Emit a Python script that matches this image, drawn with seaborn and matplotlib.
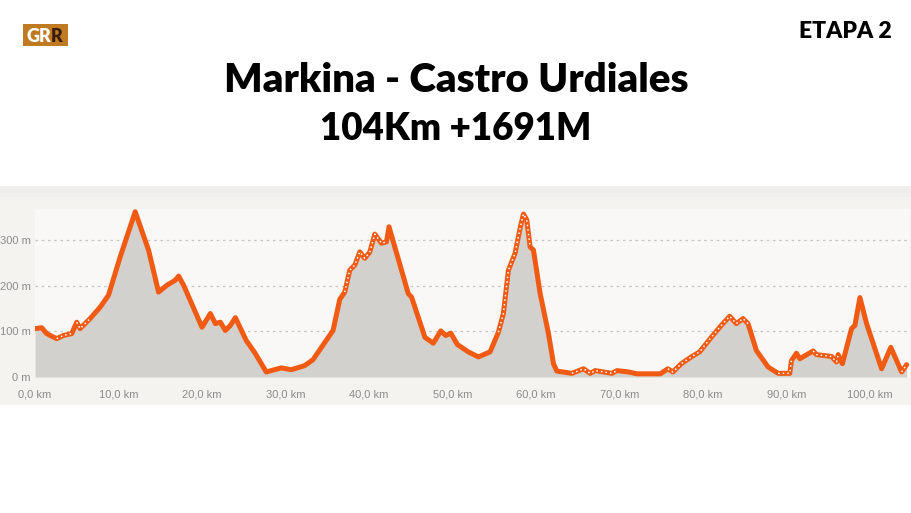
import numpy as np
import pandas as pd
import matplotlib.pyplot as plt
import seaborn as sns
from matplotlib.patches import Rectangle
from matplotlib.ticker import FuncFormatter

# ── Data ──────────────────────────────────────────────────────────────────────

dist_km = [0.0, 0.8, 1.4, 2.6, 3.4, 4.4, 5.0, 5.4, 6.6, 7.8, 8.8, 10.2, 12.0,
           13.6, 14.8, 15.8, 16.8, 17.2, 17.8, 20.0, 21.0, 21.6, 22.2, 22.8,
           23.4, 24.0, 25.3, 26.3, 27.7, 28.7, 29.5, 30.7, 32.3, 33.3, 34.5,
           35.7, 36.5, 37.1, 37.7, 38.3, 38.9, 39.5, 40.1, 40.7, 41.5, 42.1,
           42.4, 44.7, 45.1, 46.7, 47.7, 48.6, 49.2, 49.8, 50.6, 51.9, 53.1,
           54.5, 55.5, 56.1, 56.7, 57.5, 58.1, 58.5, 58.9, 59.3, 59.7, 60.5,
           61.5, 62.1, 62.5, 64.3, 65.7, 66.5, 67.1, 69.1, 69.7, 71.1, 72.1,
           74.9, 75.8, 76.4, 77.4, 78.6, 79.6, 81.0, 82.2, 83.2, 84.0, 84.8,
           85.4, 86.4, 87.8, 89.0, 90.4, 90.6, 91.2, 91.6, 93.2, 93.6, 95.4,
           96.0, 96.2, 96.7, 97.8, 98.2, 98.8, 99.6, 101.4, 102.5, 103.8, 104.4]
elev_m = [106, 108, 95, 84, 91, 95, 120, 106, 128, 153, 179, 263, 362,
          278, 186, 201, 212, 221, 201, 109, 139, 117, 120, 102,
          113, 130, 80, 54, 11, 16, 20, 16, 25, 38, 70,
          102, 170, 186, 234, 245, 274, 260, 274, 313, 293, 296,
          329, 183, 175, 87, 74, 101, 91, 96, 71, 55, 44,
          55, 98, 139, 234, 271, 326, 357, 344, 285, 278, 183,
          95, 29, 13, 8, 18, 8, 14, 8, 14, 11, 7,
          7, 18, 11, 29, 44, 55, 87, 113, 133, 117, 128,
          117, 58, 22, 8, 8, 36, 52, 40, 57, 49, 45,
          33, 49, 29, 106, 113, 174, 117, 18, 65, 11, 27]

# stretches drawn with the white dotted overlay
dotted_ranges = [(2.0, 4.4), (5.0, 6.6), (8.4, 9.0), (37.1, 42.2), (55.5, 59.3),
                 (64.0, 70.0), (75.0, 85.6), (89.0, 90.6), (92.8, 96.4), (103.6, 104.4)]

x_ticks = [0, 10, 20, 30, 40, 50, 60, 70, 80, 90, 100]
y_ticks = [0, 100, 200, 300]

title_1 = "Markina - Castro Urdiales"
title_2 = "104Km +1691M"
stage = "ETAPA 2"

df = pd.DataFrame({'dist': dist_km, 'elev': elev_m})

LINE = '#f05a12'
FILL = '#d3d1cd'
TITLE_FONT = ['Lato', 'DejaVu Sans']

sns.set_style('white')
plt.rcParams['font.family'] = ['Liberation Sans', 'DejaVu Sans']

fig = plt.figure(figsize=(9.12, 5.13), dpi=100)
fig.patch.set_facecolor('white')

# screenshot panel behind the chart (own background axes)
bg = fig.add_axes([0, 0, 1, 1], zorder=-1)
bg.set_xlim(0, 912)
bg.set_ylim(513, 0)
bg.axis('off')
bg.add_patch(Rectangle((0, 197), 912, 208, color='#f4f3f0', lw=0))
bg.add_patch(Rectangle((0, 186), 912, 11, color='#efeeec', lw=0))
# GRR badge
bg.add_patch(Rectangle((23, 24), 45, 22, color='#bf7a22', lw=0))
bg.text(51, 41.5, "GR", ha='right', va='baseline', fontsize=13,
        fontweight='heavy', color='white', family=TITLE_FONT)
bg.text(51, 41.5, "R", ha='left', va='baseline', fontsize=13,
        fontweight='heavy', color='#3b1c0c', family=TITLE_FONT)

ax = fig.add_axes([35 / 912, 1 - 377 / 513, 875 / 912, (377 - 209) / 513], zorder=1)
ax.set_facecolor('#f9f8f6')

ax.fill_between(df['dist'], df['elev'], 0, color=FILL, lw=0, zorder=2)
sns.lineplot(data=df, x='dist', y='elev', ax=ax, color=LINE, lw=3.6,
             zorder=3, sort=False)
for lo, hi in dotted_ranges:
    seg = df[(df['dist'] >= lo) & (df['dist'] <= hi)]
    ax.plot(seg['dist'], seg['elev'], color='white', lw=1.1,
            ls=(0, (1, 2)), zorder=4)

ax.set_xlim(0, 104.8)
ax.set_ylim(0, 368)
ax.set_xticks(x_ticks)
ax.set_yticks(y_ticks)
ax.xaxis.set_major_formatter(FuncFormatter(lambda v, p: f"{v:.1f}".replace('.', ',') + " km"))
ax.yaxis.set_major_formatter(FuncFormatter(lambda v, p: f"{int(v)} m"))
ax.tick_params(axis='x', length=5, color='#d0d0d0', labelsize=8, labelcolor='#8c8c8c', pad=4)
ax.tick_params(axis='y', length=0, labelsize=8, labelcolor='#8c8c8c', pad=3)
for y in y_ticks[1:]:
    ax.axhline(y, color='#c4c4c4', lw=0.9, ls=(0, (2, 3)), zorder=1)
for s in ax.spines.values():
    s.set_visible(False)
ax.set_xlabel('')
ax.set_ylabel('')

# titles
fig.text(0.5, 1 - 92 / 513, title_1, ha='center', va='baseline',
         fontsize=29, fontweight='heavy', family=TITLE_FONT, color='black')
fig.text(0.5, 1 - 140 / 513, title_2, ha='center', va='baseline',
         fontsize=26.5, fontweight='heavy', family=TITLE_FONT, color='black')
fig.text(892 / 912, 1 - 38 / 513, stage, ha='right', va='baseline',
         fontsize=16.5, fontweight='heavy', family=TITLE_FONT, color='black')

fig.savefig('out.png', dpi=100, facecolor=fig.get_facecolor())
